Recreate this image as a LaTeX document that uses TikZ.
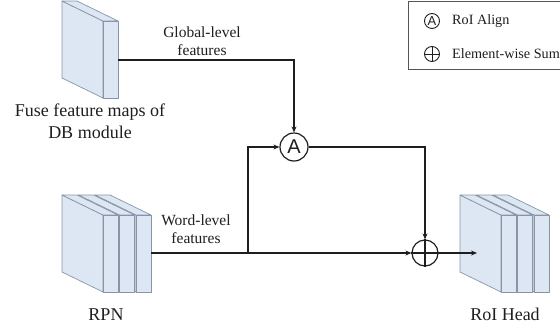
\documentclass[tikz,border=0pt]{standalone}
\usepackage{fontspec}
\setmainfont{Liberation Serif}
\setsansfont{Liberation Sans}
\usetikzlibrary{arrows.meta}
\definecolor{slabfill}{HTML}{DCE7F3}
\definecolor{slabedge}{HTML}{8795A6}
\definecolor{ink}{HTML}{1E1E1E}
\definecolor{boxedge}{HTML}{555555}
\newcommand\myslab[2]{%
  \filldraw[slabpart] (#1,#2) -- ++(41,20) -- ++(0,77) -- ++(-41,-20) -- cycle;
  \filldraw[slabpart] (#1,#2) -- ++(15,0) -- ++(41,20) -- ++(-15,0) -- cycle;
  \filldraw[slabpart] (#1+41,#2+20) rectangle ++(15,77);
}
\tikzset{
  slabpart/.style={fill=slabfill,draw=slabedge,line width=0.7pt,line join=round},
  conn/.style={draw=ink,line width=1.2pt},
  arr/.style={conn,-{Stealth[length=6pt,width=5pt]}},
  opnode/.style={circle,draw=ink,line width=1.2pt,inner sep=0pt,text=ink},
  lbl/.style={text=ink,align=center,inner sep=0pt},
  big/.style={font=\fontsize{18}{22}\selectfont},
  mid/.style={font=\fontsize{15.5}{18.5}\selectfont},
  legtext/.style={text=ink,anchor=west,inner sep=0pt,font=\fontsize{14.2}{16}\selectfont},
}
\begin{document}
\begin{tikzpicture}[x=1pt,y=-1pt]
\useasboundingbox (0,0) rectangle (560,330);
\clip (0,0) rectangle (560,330);
% blocks
\myslab{62}{1}
\foreach \o in {33,16.5,0} {\myslab{62+\o}{195}}
\foreach \o in {33,16.5,0} {\myslab{460+\o}{195}}
% anchor coordinates
\coordinate (db) at (118,60);
\coordinate (rpn) at (151,253);
\coordinate (br) at (248,253);
\coordinate (head) at (477,253);
% operators
\node[opnode,minimum size=28pt,font=\sffamily\fontsize{20}{20}\selectfont] (A) at (294,147) {A};
\node[opnode,minimum size=26pt] (S) at (425,253) {};
\draw[conn] (S.north) -- (S.south) (S.west) -- (S.east);
% connectors
\draw[arr] (db) -| (A.north);
\draw[arr] (rpn) -- (S.west);
\draw[arr] (br) |- (A.west);
\draw[arr] (A.east) -| (S.north);
\draw[arr] (S.east) -- (head);
% labels
\node[lbl,mid] (gl) at (202,41) {Global-level\\features};
\node[lbl,mid] (wl) at (196,229) {Word-level\\features};
\node[lbl,big] (dbl) at (90,121) {Fuse feature maps of\\DB module};
\node[lbl,big] (rpnl) at (106,315) {RPN};
\node[lbl,big] (headl) at (505,314) {RoI Head};
% legend
\draw[boxedge,line width=1pt] (408,1) rectangle (575,69);
\node[opnode,line width=0.9pt,minimum size=15pt,font=\sffamily\fontsize{13}{13}\selectfont] (la) at (432,21) {A};
\node[legtext] (lat) at (452,21) {RoI Align};
\node[opnode,line width=0.9pt,minimum size=15pt] (ls) at (432,54) {};
\draw[ink,line width=0.9pt] (ls.north) -- (ls.south) (ls.west) -- (ls.east);
\node[legtext] (lst) at (452,54) {Element-wise Sum};
\end{tikzpicture}
\end{document}
